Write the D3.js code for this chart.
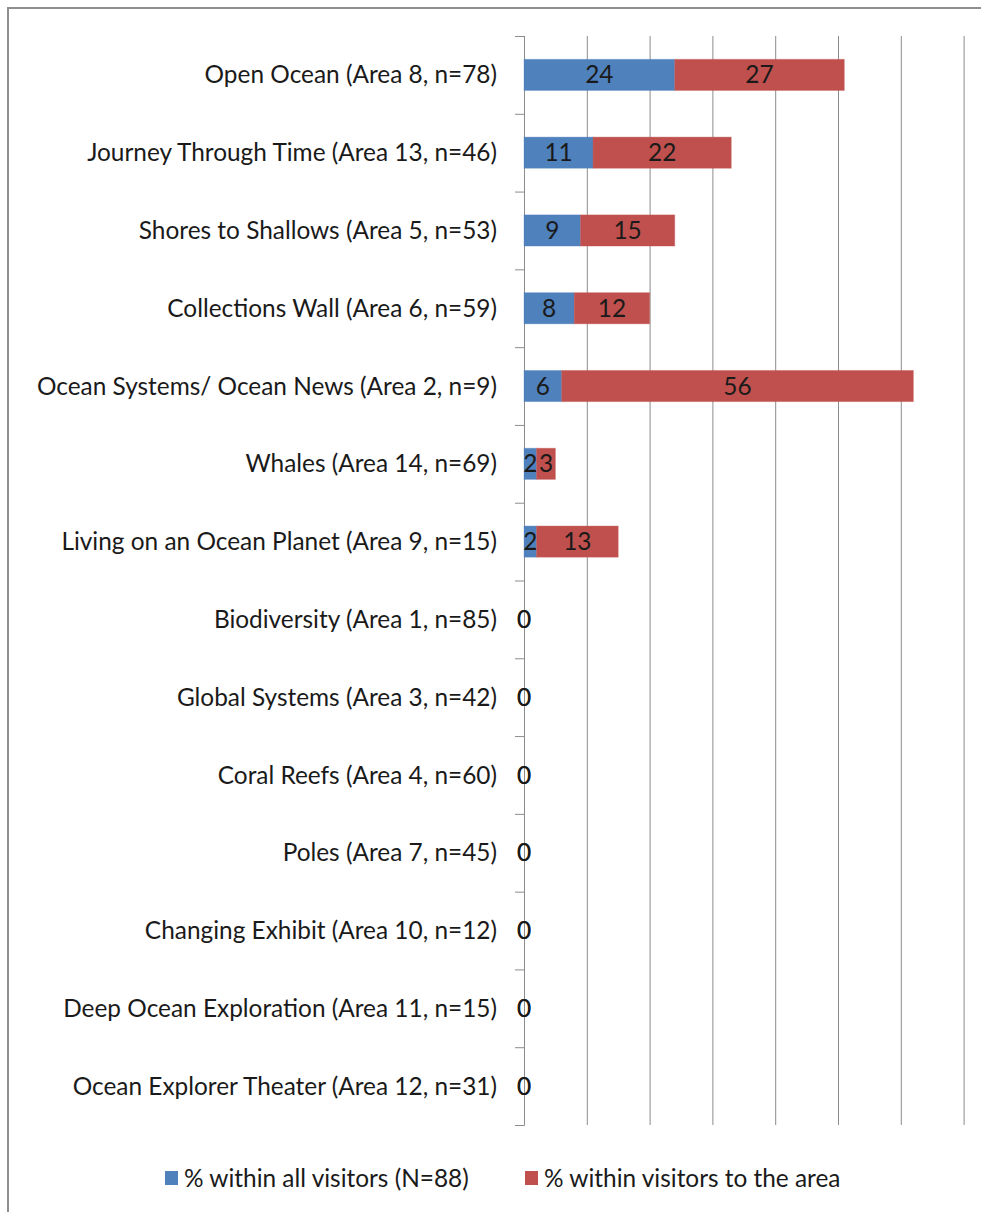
<!DOCTYPE html>
<html>
<head>
<meta charset="utf-8">
<script src="https://cdn.jsdelivr.net/npm/d3@7"></script>
<style>
	body { margin: 0; background: #fff; }
	text { font-family: Lato, "Open Sans", sans-serif; fill: #1a1a1a; }
</style>
</head>
<body>
<div id="chart"></div>
<script>
// exhibit areas, top to bottom as they appear in the chart
var categories = [
	"Open Ocean (Area 8, n=78)",
	"Journey Through Time (Area 13, n=46)",
	"Shores to Shallows (Area 5, n=53)",
	"Collections Wall (Area 6, n=59)",
	"Ocean Systems/ Ocean News (Area 2, n=9)",
	"Whales (Area 14, n=69)",
	"Living on an Ocean Planet (Area 9, n=15)",
	"Biodiversity (Area 1, n=85)",
	"Global Systems (Area 3, n=42)",
	"Coral Reefs (Area 4, n=60)",
	"Poles (Area 7, n=45)",
	"Changing Exhibit (Area 10, n=12)",
	"Deep Ocean Exploration (Area 11, n=15)",
	"Ocean Explorer Theater (Area 12, n=31)"
];

// % within all visitors (N=88)
var allVisitors = [24, 11, 9, 8, 6, 2, 2, 0, 0, 0, 0, 0, 0, 0];

// % within visitors to the area
var areaVisitors = [27, 22, 15, 12, 56, 3, 13, 0, 0, 0, 0, 0, 0, 0];

var seriesNames = ["% within all visitors (N=88)", "% within visitors to the area"];
var seriesColors = ["#4f81bd", "#c0504d"];
var xTicks = [0, 10, 20, 30, 40, 50, 60, 70];

/* **************************************************************************
 * layout
 ****************************************************************************/
var width = 981, height = 1212;
var plot = { left: 524, right: 963.6, top: 36, bottom: 1125 };
var fontSize = 24.4;

var svg = d3.select("#chart").append("svg")
	.attr("width", width)
	.attr("height", height)
	.style("display", "block");

// outer chart frame, right and bottom edges run off the page
svg.append("rect")
	.attr("x", 8).attr("y", 8)
	.attr("width", 1010).attr("height", 1240)
	.attr("fill", "#fff")
	.attr("stroke", "#8e8e8e")
	.attr("stroke-width", 2);

var x = d3.scaleLinear().domain([0, 70]).range([plot.left, plot.right]);
var y = d3.scaleBand().domain(categories).range([plot.top, plot.bottom]).paddingInner(0.6).paddingOuter(0.3);
var yEdge = d3.scaleLinear().domain([0, categories.length]).range([plot.top, plot.bottom]);

// vertical gridlines, no value labels
var grid = svg.append("g")
	.attr("transform", "translate(0," + plot.bottom + ")")
	.call(d3.axisBottom(x).tickValues(xTicks).tickSize(-(plot.bottom - plot.top)).tickFormat(""));
grid.select(".domain").remove();
grid.selectAll("line").attr("stroke", "#8c8c8c");

// category axis: line with ticks on the band boundaries
var yAxis = svg.append("g")
	.attr("transform", "translate(" + plot.left + ",0)")
	.call(d3.axisLeft(yEdge).ticks(categories.length).tickSize(9).tickSizeOuter(9).tickFormat(""));
yAxis.selectAll("path, line").attr("stroke", "#8c8c8c");

// category labels
svg.append("g").selectAll("text")
	.data(categories)
	.join("text")
	.attr("x", 497)
	.attr("y", function (d) { return y(d) + y.bandwidth() / 2; })
	.attr("dy", "0.35em")
	.attr("text-anchor", "end")
	.attr("font-size", fontSize)
	.text(function (d) { return d; });

/* **************************************************************************
 * stacked bars
 ****************************************************************************/
var rows = categories.map(function (c, i) {
	return { cat: c, all: allVisitors[i], area: areaVisitors[i] };
});
var stacked = d3.stack().keys(["all", "area"])(rows);

var layers = svg.append("g").selectAll("g")
	.data(stacked)
	.join("g")
	.attr("fill", function (d, i) { return seriesColors[i]; });

layers.selectAll("rect")
	.data(function (d) { return d; })
	.join("rect")
	.attr("x", function (d) { return x(d[0]); })
	.attr("y", function (d) { return y(d.data.cat); })
	.attr("width", function (d) { return x(d[1]) - x(d[0]); })
	.attr("height", y.bandwidth())
	.attr("stroke", function () { return d3.select(this.parentNode).attr("fill"); })
	.attr("stroke-opacity", 0.35)
	.attr("stroke-width", 1);

// value labels centred in each segment
layers.selectAll("text")
	.data(function (d) { return d; })
	.join("text")
	.attr("x", function (d) { return (x(d[0]) + x(d[1])) / 2; })
	.attr("y", function (d) { return y(d.data.cat) + y.bandwidth() / 2; })
	.attr("dy", "0.35em")
	.attr("text-anchor", "middle")
	.attr("font-size", fontSize)
	.text(function (d) { return d[1] - d[0]; });

/* **************************************************************************
 * legend
 ****************************************************************************/
var legendX = [165, 525];
var legend = svg.append("g").selectAll("g")
	.data(seriesNames)
	.join("g")
	.attr("transform", function (d, i) { return "translate(" + legendX[i] + ",1171)"; });

legend.append("rect")
	.attr("width", 13).attr("height", 14)
	.attr("fill", function (d, i) { return seriesColors[i]; });

legend.append("text")
	.attr("x", 19)
	.attr("y", 7)
	.attr("dy", "0.35em")
	.attr("font-size", fontSize)
	.text(function (d) { return d; });
</script>
</body>
</html>
